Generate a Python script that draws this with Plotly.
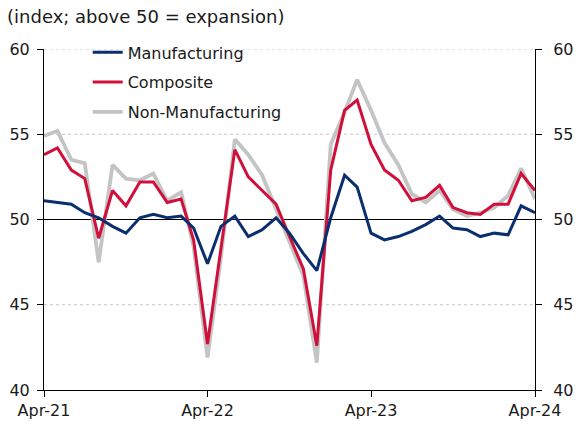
import plotly.graph_objects as go
import pandas as pd

# Monthly PMI readings, Apr-2021 .. Apr-2024
months = pd.date_range("2021-04-01", "2024-04-01", freq="MS")

manufacturing = [51.1, 51.0, 50.9, 50.4, 50.1, 49.6, 49.2, 50.1, 50.3,
                 50.1, 50.2, 49.5, 47.4, 49.6, 50.2, 49.0, 49.4, 50.1, 49.2, 48.0, 47.0,
                 50.1, 52.6, 51.9, 49.2, 48.8, 49.0, 49.3, 49.7, 50.2, 49.5, 49.4, 49.0,
                 49.2, 49.1, 50.8, 50.4]
composite = [53.8, 54.2, 52.9, 52.4, 48.9, 51.7, 50.8, 52.2, 52.2,
             51.0, 51.2, 48.8, 42.7, 48.4, 54.1, 52.5, 51.7, 50.9, 49.0, 47.1, 42.6,
             52.9, 56.4, 57.0, 54.4, 52.9, 52.3, 51.1, 51.3, 52.0, 50.7, 50.4, 50.3,
             50.9, 50.9, 52.7, 51.7]
non_manufacturing = [54.9, 55.2, 53.5, 53.3, 47.5, 53.2, 52.4, 52.3, 52.7,
                     51.1, 51.6, 48.4, 41.9, 47.8, 54.7, 53.8, 52.6, 50.6, 48.7, 46.7, 41.6,
                     54.4, 56.3, 58.2, 56.4, 54.5, 53.2, 51.5, 51.0, 51.7, 50.6, 50.2, 50.4,
                     50.7, 51.4, 53.0, 51.2]

y_ticks = [40, 45, 50, 55, 60]
grid_levels = [45, 55, 60]
x_ticks = ["2021-04-01", "2022-04-01", "2023-04-01", "2024-04-01"]
x_tick_labels = ["Apr-21", "Apr-22", "Apr-23", "Apr-24"]

NAVY = "#0a2f6e"
RED = "#d0103a"
GREY = "#c4c4c4"
FONT = "DejaVu Sans"
TEXT = "#1a1a1a"

fig = go.Figure()

# drawn bottom-to-top: grey, red, navy; legend ranks keep the listing order
fig.add_trace(go.Scatter(x=months, y=non_manufacturing, name="Non-Manufacturing",
                         mode="lines", line=dict(color=GREY, width=3.8),
                         legendrank=3, legendgroup="c"))
fig.add_trace(go.Scatter(x=months, y=composite, name="Composite",
                         mode="lines", line=dict(color=RED, width=3),
                         legendrank=2, legendgroup="b"))
fig.add_trace(go.Scatter(x=months, y=manufacturing, name="Manufacturing",
                         mode="lines", line=dict(color=NAVY, width=3),
                         legendrank=1, legendgroup="a"))
# carrier for the right-hand axis
fig.add_trace(go.Scatter(x=[months[0]], y=[50], yaxis="y2", mode="lines",
                         line=dict(width=0), showlegend=False, hoverinfo="skip"))

# dotted horizontal guides
for lvl in grid_levels:
    fig.add_shape(type="line", xref="paper", x0=0, x1=1, yref="y", y0=lvl, y1=lvl,
                  line=dict(color="#c6c6c6", width=1, dash="dot"), layer="below")
# 50 = expansion threshold
fig.add_shape(type="line", xref="paper", x0=0, x1=1, yref="y", y0=50, y1=50,
              line=dict(color="black", width=1), layer="below")

axis_font = dict(family=FONT, size=16, color=TEXT)

fig.update_layout(
    width=587, height=425,
    margin=dict(l=44, r=52, t=49, b=35),
    paper_bgcolor="white", plot_bgcolor="white",
    font=dict(family=FONT, color=TEXT),
    title=dict(text="(index; above 50 = expansion)", x=0.012, xanchor="left",
               y=0.96, yanchor="middle", yref="container",
               font=dict(family=FONT, size=18, color=TEXT)),
    showlegend=True,
    legend=dict(x=0.089, y=1.04, xanchor="left", yanchor="top",
                bgcolor="rgba(0,0,0,0)", traceorder="grouped",
                tracegroupgap=6, font=dict(family=FONT, size=16, color=TEXT)),
    xaxis=dict(type="date", range=[x_ticks[0], x_ticks[-1]],
               tickvals=x_ticks, ticktext=x_tick_labels,
               ticks="outside", ticklen=6, tickcolor="black",
               showline=True, linecolor="black", linewidth=1,
               showgrid=False, zeroline=False, tickfont=axis_font,
               automargin=False),
    yaxis=dict(range=[40, 60], tickvals=y_ticks,
               ticks="outside", ticklen=6, tickcolor="black",
               showline=True, linecolor="black", linewidth=1,
               showgrid=False, zeroline=False, tickfont=axis_font,
               ticklabelstandoff=4, automargin=False),
    yaxis2=dict(range=[40, 60], tickvals=y_ticks, overlaying="y", side="right",
                ticks="outside", ticklen=6, tickcolor="black",
                showline=True, linecolor="black", linewidth=1,
                showgrid=False, zeroline=False, tickfont=axis_font,
                ticklabelstandoff=8, automargin=False),
)

fig.write_html("out.html")
